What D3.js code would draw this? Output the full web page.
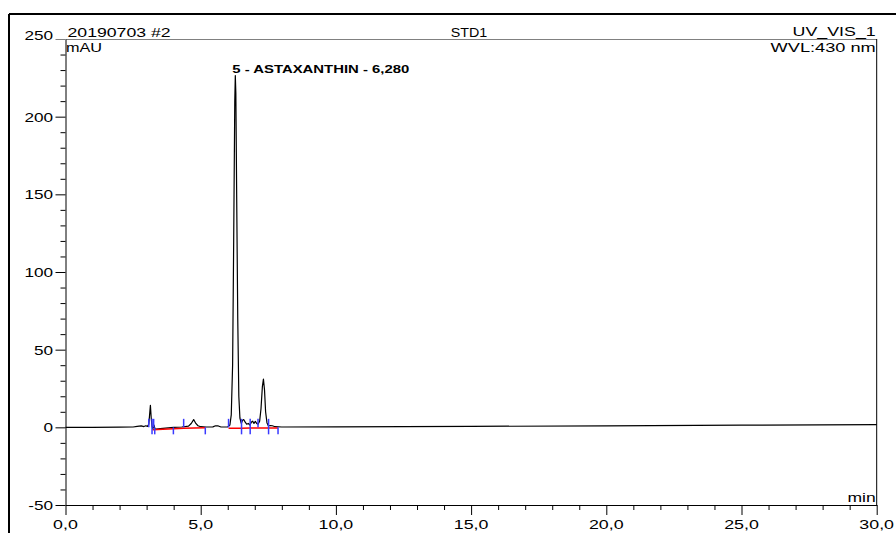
<!DOCTYPE html>
<html>
<head>
<meta charset="utf-8">
<script src="https://cdn.jsdelivr.net/npm/d3@7"></script>
<style>
  html, body { margin: 0; padding: 0; background: #fff; }
  svg { display: block; }
</style>
</head>
<body>
<svg id="chart" width="896" height="533"></svg>
<script>
// ---------- DATA ----------
const traceTime = [0.0, 1.0, 2.0, 2.5, 2.65, 2.8, 2.9, 2.97, 3.03, 3.08, 3.11, 3.14, 3.17, 3.20, 3.23, 3.27, 3.30, 3.35, 3.50, 3.80, 4.00, 4.30, 4.55, 4.65, 4.74, 4.82, 4.90, 5.00, 5.20, 5.45, 5.55, 5.65, 5.75, 6.00, 6.08, 6.13, 6.18, 6.22, 6.26, 6.28, 6.30, 6.33, 6.37, 6.41, 6.45, 6.50, 6.55, 6.59, 6.64, 6.70, 6.76, 6.82, 6.88, 6.92, 6.97, 7.02, 7.07, 7.12, 7.18, 7.23, 7.28, 7.32, 7.36, 7.40, 7.45, 7.50, 7.58, 7.65, 7.75, 8.0, 10.0, 15.0, 20.0, 25.0, 30.0];
const traceMAU  = [0.0, 0.0, 0.1, 0.2, 0.6, 0.9, 0.5, 1.0, 0.6, 2.0, 8.0, 14.2, 6.0, 0.5, -1.0, 1.5, -0.8, -1.2, -0.8, -0.3, 0.0, 0.2, 0.8, 2.5, 5.0, 2.5, 1.0, 0.4, 0.2, 0.3, 1.0, 0.9, 0.2, 0.3, 1.5, 8.0, 40.0, 120.0, 210.0, 226.5, 215.0, 150.0, 70.0, 20.0, 6.0, 2.5, 4.5, 5.0, 3.5, 2.0, 2.5, 1.5, 3.5, 4.0, 2.5, 3.8, 2.5, 2.0, 4.0, 12.0, 26.0, 31.0, 24.0, 10.0, 3.0, 1.0, 1.2, 1.0, 0.4, 0.2, 0.3, 0.6, 1.0, 1.4, 1.8];

// peak delimiter markers (time, kind: "up", "down", "both")
const markerTime = [3.08, 3.20, 3.26, 3.30, 3.99, 4.37, 5.17, 6.03, 6.51, 6.83, 7.12, 7.51, 7.86];
const markerKind = ["up", "both", "up", "down", "down", "up", "down", "up", "both", "both", "up", "both", "down"];

// integration baselines (red)
const baseTime = [[3.22, 3.99, 4.37, 5.17], [6.03, 6.51, 6.83, 7.12, 7.51, 7.86]];
const baseMAU  = [[-1.0, -0.4, 0.0, 0.2], [0.0, 0.0, 0.1, 0.1, 0.1, 0.1]];

const peakLabel = "5 - ASTAXANTHIN - 6,280";
const peakTime = 6.28, peakMAU = 226.5;

const xMajor = [0, 5, 10, 15, 20, 25, 30];
const xMajorLabels = ["0,0", "5,0", "10,0", "15,0", "20,0", "25,0", "30,0"];
const yMajor = [-50, 0, 50, 100, 150, 200, 250];
const yMajorLabels = ["-50", "0", "50", "100", "150", "200", "250"];

const headerLeft = "20190703 #2";
const headerCenter = "STD1";
const headerRight = "UV_VIS_1";
const yUnit = "mAU";
const wvl = "WVL:430 nm";
const xUnit = "min";

// ---------- LAYOUT ----------
const L = 65.5, R = 876.7, T = 39, B = 505;
const FONT = "'Liberation Sans', Arial, sans-serif";
const svg = d3.select("#chart");

const x = d3.scaleLinear().domain([0, 30]).range([L, R]);
const y = d3.scaleLinear().domain([-50, 250]).range([B, T]);

// outer frame
svg.append("line").attr("x1", 9).attr("x2", 896).attr("y1", 14).attr("y2", 14)
  .attr("stroke", "#000").attr("stroke-width", 2);
svg.append("line").attr("x1", 9).attr("x2", 9).attr("y1", 14).attr("y2", 533)
  .attr("stroke", "#000").attr("stroke-width", 2);

// plot frame: top gray, right black
svg.append("line").attr("x1", L).attr("x2", R).attr("y1", T + 0.5).attr("y2", T + 0.5)
  .attr("stroke", "#808080").attr("stroke-width", 1);
svg.append("line").attr("x1", R).attr("x2", R).attr("y1", T).attr("y2", B)
  .attr("stroke", "#000").attr("stroke-width", 1);

function stretchText(px, py, s, anchor, size, sx, weight) {
  svg.append("text")
    .attr("transform", `translate(${px},${py}) scale(${sx},1)`)
    .attr("text-anchor", anchor)
    .attr("font-family", FONT)
    .attr("font-size", size)
    .attr("font-weight", weight || "normal")
    .attr("fill", "#000")
    .text(s);
}

// y axis
const yAxis = d3.axisLeft(y).tickValues(d3.range(-50, 251, 10)).tickFormat("")
  .tickSize(5).tickSizeOuter(0);
const gy = svg.append("g").attr("transform", `translate(${L},0)`).call(yAxis);
gy.selectAll(".tick line").attr("stroke", "#000")
  .attr("x2", d => (d % 50 === 0 ? -10 : -5));
gy.select(".domain").attr("stroke", "#000");
gy.select(".tick:last-of-type line").attr("stroke", "#808080");
yMajor.forEach((v, i) => {
  const yy = v === 250 ? y(v) + 0.5 : y(v) + 5;
  stretchText(L - 12.5, yy, yMajorLabels[i], "end", 13.5, 1.27);
});

// x axis
const xAxis = d3.axisBottom(x).tickValues(d3.range(0, 31, 1)).tickFormat("")
  .tickSize(5).tickSizeOuter(0);
const gx = svg.append("g").attr("transform", `translate(0,${B})`).call(xAxis);
gx.selectAll(".tick line").attr("stroke", "#000")
  .attr("y2", d => (d % 5 === 0 ? 10 : 5));
gx.select(".domain").attr("stroke", "#000");
xMajor.forEach((v, i) => {
  stretchText(x(v), 529, xMajorLabels[i], "middle", 13.5, 1.32);
});

// header texts
stretchText(L + 2, 36.5, headerLeft, "start", 13, 1.36);
stretchText(469, 36.5, headerCenter, "middle", 13, 1.1);
stretchText(R - 1, 36, headerRight, "end", 13, 1.37);
stretchText(L + 0.5, 51.5, yUnit, "start", 13, 1.25);
stretchText(R - 1, 51.5, wvl, "end", 13, 1.4);
stretchText(R - 1, 501.5, xUnit, "end", 13, 1.35);

// trace
const traceLine = d3.line().x(d => x(d[0])).y(d => y(d[1]));
svg.append("path")
  .datum(traceTime.map((t, i) => [t, traceMAU[i]]))
  .attr("d", traceLine)
  .attr("fill", "none").attr("stroke", "#000").attr("stroke-width", 1.2)
  .attr("stroke-linejoin", "round");

// red baselines (drawn over the trace)
const baseLine = d3.line().x(d => x(d[0])).y(d => y(d[1]) + 0.8);
baseTime.forEach((ts, k) => {
  svg.append("path")
    .datum(ts.map((t, i) => [t, baseMAU[k][i]]))
    .attr("d", baseLine)
    .attr("fill", "none").attr("stroke", "#ff0000").attr("stroke-width", 1.5);
});

// blue delimiters
markerTime.forEach((t, i) => {
  const k = markerKind[i];
  const y0 = y(0);
  const top = k === "down" ? y0 : y0 - 8.5;
  const bot = k === "up" ? y0 : y0 + 7;
  svg.append("line")
    .attr("x1", x(t)).attr("x2", x(t)).attr("y1", top).attr("y2", bot)
    .attr("stroke", "#3a3aff").attr("stroke-width", 1.5);
});

// peak label
svg.append("text")
  .attr("x", x(peakTime) - 3).attr("y", 72.5)
  .attr("font-family", FONT).attr("font-size", 11.5).attr("font-weight", "bold")
  .attr("textLength", 177).attr("lengthAdjust", "spacingAndGlyphs")
  .text(peakLabel);
</script>
</body>
</html>
